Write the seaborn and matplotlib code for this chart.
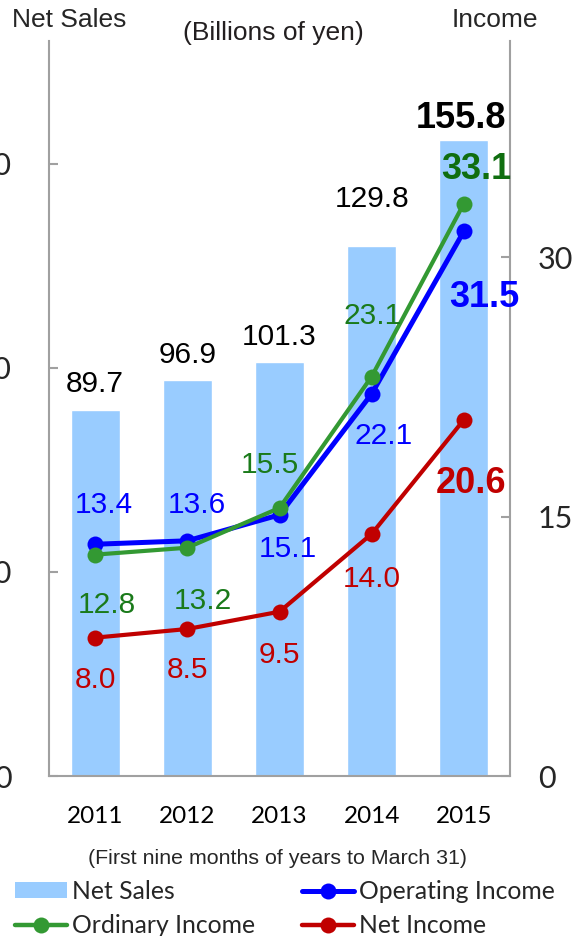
import matplotlib
matplotlib.use("Agg")
import matplotlib.pyplot as plt
from matplotlib.patches import Patch
from matplotlib.lines import Line2D
from matplotlib.ticker import FixedLocator
import seaborn as sns
import pandas as pd

# ---- data (billions of yen) ----
years = ["2011", "2012", "2013", "2014", "2015"]
net_sales = [89.7, 96.9, 101.3, 129.8, 155.8]
operating_income = [13.4, 13.6, 15.1, 22.1, 31.5]
ordinary_income = [12.8, 13.2, 15.5, 23.1, 33.1]
net_income = [8.0, 8.5, 9.5, 14.0, 20.6]
sales_ticks = [0, 50, 100, 150]
income_ticks = [0, 15, 30]

# ---- styling ----
sns.set_style("white")
plt.rcParams["font.family"] = ["Liberation Sans", "DejaVu Sans"]
TICK_FONT = "Lato"
AXIS_GRAY = "#a0a0a0"
BAR_COLOR = "#99ccff"
BLUE, GREEN, RED = "#0000ff", "#339933", "#c00000"
GREEN_TEXT = "#1a7a1a"
MARKER = 11.5

# label offsets in pixels (dx, dy from the point, text baseline)
bar_off = [(0, 18), (0, 17), (0, 17), (0, 39), (-3, 12)]
op_off = [(9, 31), (10, 28), (8, -42), (12, -50), (20, -76)]
ord_off = [(12, -58), (16, -61), (-10, 35), (1, 53), (12, 25)]
net_off = [(0, -50), (0, -49), (0, -51), (0, -53), (7, -73)]

df = pd.DataFrame({"year": years, "sales": net_sales, "op": operating_income,
                   "ord": ordinary_income, "net": net_income})

fig = plt.figure(figsize=(5.75, 9.36), dpi=100)
ax = fig.add_axes([49 / 575, 160 / 936, 461 / 575, 735 / 936])

sns.barplot(data=df, x="year", y="sales", color=BAR_COLOR, saturation=1,
            width=0.53, ax=ax, zorder=1)

ax2 = ax.twinx()
for col, color, lw in [("op", BLUE, 3.6), ("ord", GREEN, 3.0), ("net", RED, 3.0)]:
    sns.pointplot(data=df, x="year", y=col, color=color, errorbar=None,
                  markers="o", linestyles="-", linewidth=lw, markersize=MARKER,
                  markeredgewidth=0, ax=ax2)

# axes limits and ticks
ax.set_ylim(0, 180)
ax2.set_ylim(0, 42.5)
ax.set_xlim(-0.5, 4.5)
ax2.set_xlim(-0.5, 4.5)
ax.set_xlabel("")
ax.set_ylabel("")
ax2.set_xlabel("")
ax2.set_ylabel("")

ax.set_yticks(sales_ticks)
ax.set_yticklabels([str(t) for t in sales_ticks])
ax2.set_yticks(income_ticks)
ax2.set_yticklabels([str(t) for t in income_ticks])

ax.set_xticks(range(len(years)))
ax.set_xticklabels(years)
ax.xaxis.set_minor_locator(FixedLocator([i - 0.5 for i in range(len(years) + 1)]))
ax.tick_params(axis="x", which="major", length=0, pad=21.5,
               labelsize=17.5, labelfontfamily=TICK_FONT, labelcolor="black")
ax.tick_params(axis="x", which="minor", length=6.5, width=1.5,
               direction="out", color=AXIS_GRAY)
ax.tick_params(axis="y", which="major", length=6.5, width=1.5, direction="in",
               color=AXIS_GRAY, pad=27, labelsize=22, labelfontfamily=TICK_FONT)
ax2.tick_params(axis="y", which="major", length=6.5, width=1.5, direction="in",
                color=AXIS_GRAY, pad=20, labelsize=22, labelfontfamily=TICK_FONT)
ax2.tick_params(axis="x", which="both", length=0, labelbottom=False)
ax.tick_params(left=True, bottom=True)
ax2.tick_params(right=True)

for a in (ax, ax2):
    for side, sp in a.spines.items():
        sp.set_color(AXIS_GRAY)
        sp.set_linewidth(1.5)
    a.spines["top"].set_visible(False)
ax2.spines["left"].set_visible(False)
ax2.spines["bottom"].set_visible(False)
ax.spines["right"].set_visible(False)

# value labels
def label_series(axis, values, offsets, color, last_color=None, size=21.5, bold_size=26):
    for i, (v, (dx, dy)) in enumerate(zip(values, offsets)):
        bold = i == len(values) - 1
        axis.annotate(f"{v:.1f}", xy=(i, v), xytext=(dx, dy),
                      textcoords="offset pixels", ha="center", va="baseline",
                      fontsize=bold_size if bold else size,
                      fontweight="bold" if bold else "normal",
                      color=(last_color or color) if bold else color,
                      annotation_clip=False, zorder=5)

label_series(ax, net_sales, bar_off, "black")
label_series(ax2, operating_income, op_off, BLUE)
label_series(ax2, ordinary_income, ord_off, GREEN_TEXT, last_color="#0f6e0f")
label_series(ax2, net_income, net_off, RED)

# headers and footnote
fig.text(12 / 575, 1 - 27 / 936, "Net Sales", fontsize=19, ha="left", va="baseline")
fig.text(538 / 575, 1 - 27 / 936, "Income", fontsize=19, ha="right", va="baseline")
fig.text(273 / 575, 1 - 40 / 936, "(Billions of yen)", fontsize=19,
         ha="center", va="baseline", color="#231f20")
fig.text(278 / 575, 1 - 864 / 936, "(First nine months of years to March 31)",
         fontsize=15.4, ha="center", va="baseline")

# legend in two columns
leg_kw = dict(frameon=False, loc="upper left", borderpad=0, borderaxespad=0,
              handlelength=2.1, handleheight=0.62, handletextpad=0.22,
              labelspacing=0.45, prop={"family": TICK_FONT, "size": 17.8})
h_sales = Patch(facecolor=BAR_COLOR, edgecolor="none")
h_op = Line2D([], [], color=BLUE, lw=3.6, marker="o", markersize=MARKER, markeredgewidth=0)
h_ord = Line2D([], [], color=GREEN, lw=3.2, marker="o", markersize=MARKER, markeredgewidth=0)
h_net = Line2D([], [], color=RED, lw=3.2, marker="o", markersize=MARKER, markeredgewidth=0)
fig.legend([h_sales, h_ord], ["Net Sales", "Ordinary Income"],
           bbox_to_anchor=(15 / 575, 1 - 880 / 936), **leg_kw)
fig.legend([h_op, h_net], ["Operating Income", "Net Income"],
           bbox_to_anchor=(302 / 575, 1 - 880 / 936), **leg_kw)

fig.savefig("out.png", dpi=100)
